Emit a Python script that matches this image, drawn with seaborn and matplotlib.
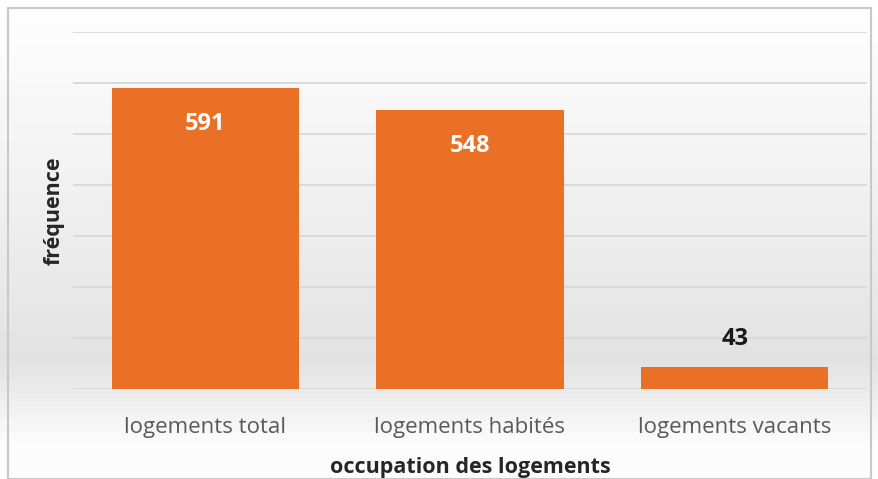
import numpy as np
import pandas as pd
import matplotlib
matplotlib.use("Agg")
import matplotlib.pyplot as plt
import seaborn as sns
from matplotlib.patches import Rectangle

categories = ["logements total", "logements habités", "logements vacants"]
values = [591, 548, 43]
label_colors = ["white", "white", "#1a1a1a"]

x_title = "occupation des logements"
y_title = "fréquence"

sns.set_theme(style="white")
plt.rcParams["font.family"] = ["Open Sans", "DejaVu Sans"]

fig = plt.figure(figsize=(8.79, 4.79), dpi=100)

# background gradient
bg = fig.add_axes([0, 0, 1, 1], zorder=-2)
grad = np.concatenate([np.linspace(1.0, 0.96, 30), np.linspace(0.96, 0.89, 45),
                       np.linspace(0.89, 0.99, 18), np.full(7, 0.99)])
img = np.stack([grad, grad, grad], axis=-1)[:, None, :].repeat(2, axis=1)
bg.imshow(img, aspect="auto", extent=[0, 1, 0, 1], origin="upper")
bg.set_axis_off()
bg.add_patch(Rectangle((0.009, 0.0), 0.982, 0.983, transform=bg.transAxes,
                       fill=False, edgecolor="#c8c8c8", lw=1.5))

ax = fig.add_axes([73 / 879, 1 - 389 / 479, (867 - 73) / 879, (389 - 32) / 479])
ax.patch.set_alpha(0)

df = pd.DataFrame({"cat": categories, "val": values})
sns.barplot(data=df, x="cat", y="val", color="#E97025", saturation=1,
            width=0.707, linewidth=0, ax=ax, zorder=3)

ax.set_ylim(0, 700)
ax.set_xlim(-0.5, 2.5)
ax.set_yticks(np.arange(0, 701, 100))
ax.yaxis.grid(True, color="#d6d6d6", lw=1.2, zorder=0)
ax.tick_params(axis="y", left=False, labelleft=False)
ax.tick_params(axis="x", bottom=False, labelsize=16, labelcolor="#595959", pad=14)
for s in ax.spines.values():
    s.set_visible(False)

ax.set_xlabel(x_title, fontsize=15.5, fontweight="bold", color="#262626", labelpad=14)
ax.set_ylabel(y_title, fontsize=15.5, fontweight="bold", color="#262626", labelpad=6)

for i, (v, c) in enumerate(zip(values, label_colors)):
    if c == "white":
        ax.annotate(str(v), (i, v), xytext=(0, -26), textcoords="offset points",
                    ha="center", va="center", fontsize=17, fontweight="bold", color=c, zorder=5)
    else:
        ax.annotate(str(v), (i, v), xytext=(0, 20), textcoords="offset points",
                    ha="center", va="center", fontsize=17, fontweight="bold", color=c, zorder=5)

fig.savefig("out.png", dpi=100)
